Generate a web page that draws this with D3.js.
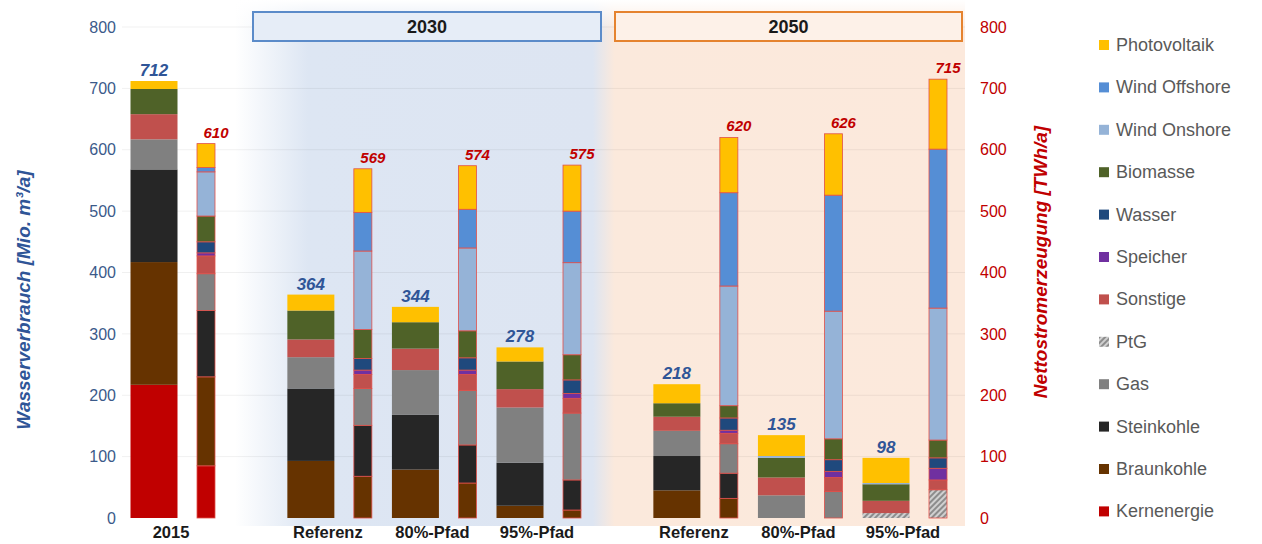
<!DOCTYPE html>
<html>
<head>
<meta charset="utf-8">
<script src="https://cdn.jsdelivr.net/npm/d3@7"></script>
<style>
  body { margin: 0; background: #fff; }
  svg text { font-family: "Liberation Sans", Arial, sans-serif; }
</style>
</head>
<body>
<script>
const w = 1262;
const h = 544;

// scenarios (one water bar + one generation bar each)
const categories = ["2015", "Referenz", "80%-Pfad", "95%-Pfad", "Referenz", "80%-Pfad", "95%-Pfad"];
const periods = ["2015", "2030", "2030", "2030", "2050", "2050", "2050"];

// stacking order bottom -> top
const sources = ["Kernenergie", "Braunkohle", "Steinkohle", "Gas", "PtG", "Sonstige",
  "Speicher", "Wasser", "Biomasse", "Wind Onshore", "Wind Offshore", "Photovoltaik"];

// Wasserverbrauch [Mio. m3/a]
const waterKern   = [217, 0, 0, 0, 0, 0, 0];
const waterBraun  = [200, 93, 79, 20, 45, 0, 0];
const waterStein  = [151, 118, 89, 70, 56, 0, 0];
const waterGas    = [49, 51, 73, 90, 41, 37, 0];
const waterPtG    = [0, 0, 0, 0, 0, 0, 8];
const waterSonst  = [41, 29, 35, 30, 23, 29, 20];
const waterSpeich = [0, 0, 0, 0, 0, 0, 0];
const waterWasser = [0, 0, 0, 0, 0, 0, 0];
const waterBio    = [41, 47, 43, 45, 22, 32, 27];
const waterOn     = [0, 0, 0, 0, 0, 3, 2];
const waterOff    = [0, 0, 0, 0, 0, 0, 0];
const waterPV     = [13, 26, 25, 23, 31, 34, 41];
const waterTotals = [712, 364, 344, 278, 218, 135, 98];

// Nettostromerzeugung [TWh/a]
const genKern   = [85, 0, 0, 0, 0, 0, 0];
const genBraun  = [145, 68, 57, 13, 32, 0, 0];
const genStein  = [108, 83, 62, 49, 41, 0, 0];
const genGas    = [60, 60, 89, 109, 48, 43, 0];
const genPtG    = [0, 0, 0, 0, 0, 0, 46];
const genSonst  = [29, 23, 26, 24, 17, 23, 16];
const genSpeich = [5, 7, 7, 8, 5, 10, 19];
const genWasser = [18, 19, 20, 22, 20, 19, 17];
const genBio    = [42, 47, 44, 41, 20, 34, 29];
const genOn     = [72, 128, 135, 150, 195, 208, 215];
const genOff    = [7, 63, 63, 84, 152, 189, 259];
const genPV     = [39, 71, 71, 75, 90, 100, 114];
const genTotals = [610, 569, 574, 575, 620, 626, 715];

const yTicks = [0, 100, 200, 300, 400, 500, 600, 700, 800];

const waterSeries = [waterKern, waterBraun, waterStein, waterGas, waterPtG, waterSonst,
  waterSpeich, waterWasser, waterBio, waterOn, waterOff, waterPV];
const genSeries = [genKern, genBraun, genStein, genGas, genPtG, genSonst,
  genSpeich, genWasser, genBio, genOn, genOff, genPV];

const colors = {
  "Kernenergie": "#c00000",
  "Braunkohle": "#663300",
  "Steinkohle": "#262626",
  "Gas": "#808080",
  "PtG": "url(#ptg)",
  "Sonstige": "#c0504d",
  "Speicher": "#7030a0",
  "Wasser": "#1f497d",
  "Biomasse": "#4f6228",
  "Wind Onshore": "#95b3d7",
  "Wind Offshore": "#558ed5",
  "Photovoltaik": "#ffc000"
};

function toRows(series) {
  return categories.map((c, i) => {
    const row = { i: i };
    sources.forEach((s, k) => row[s] = series[k][i]);
    return row;
  });
}

const stack = d3.stack().keys(sources);
const waterStack = stack(toRows(waterSeries));
const genStack = stack(toRows(genSeries));

// slot position with half-slot gap between periods
const periodList = ["2015", "2030", "2050"];
const slot = (i) => i + 0.5 * periodList.indexOf(periods[i]);

const xScale = d3.scaleLinear().domain([0, 7]).range([154, 886]);
const yScale = d3.scaleLinear().domain([0, 800]).range([518, 27]);
const waterW = 47;
const genW = 18;
const genOffset = 52;

const svg = d3.select("body").append("svg")
  .attr("width", w)
  .attr("height", h);

const defs = svg.append("defs");

const pat = defs.append("pattern")
  .attr("id", "ptg")
  .attr("patternUnits", "userSpaceOnUse")
  .attr("width", 4)
  .attr("height", 4)
  .attr("patternTransform", "rotate(45)");
pat.append("rect").attr("width", 4).attr("height", 4).attr("fill", "#d0d0d0");
pat.append("rect").attr("width", 2).attr("height", 4).attr("fill", "#8c8c8c");

const bgGrad = defs.append("linearGradient").attr("id", "bg");
[[0, "#ffffff"], [0.1, "#dde6f3"], [0.49, "#dde5f2"], [0.52, "#fbe9dc"], [1, "#fce9dc"]]
  .forEach(s => bgGrad.append("stop").attr("offset", s[0]).attr("stop-color", s[1]));

const fadeGrad = defs.append("linearGradient").attr("id", "fade")
  .attr("x1", 0).attr("x2", 0).attr("y1", 0).attr("y2", 1);
[[0, "#ffffff", 1], [0.06, "#ffffff", 0]]
  .forEach(s => fadeGrad.append("stop").attr("offset", s[0]).attr("stop-color", s[1]).attr("stop-opacity", s[2]));

// period backgrounds
svg.append("rect")
  .attr("x", 235).attr("y", 0)
  .attr("width", 730).attr("height", 526)
  .attr("fill", "url(#bg)");
svg.append("rect")
  .attr("x", 235).attr("y", 0)
  .attr("width", 730).attr("height", 526)
  .attr("fill", "url(#fade)");

// gridlines
svg.append("g")
  .selectAll("line")
  .data(yTicks.slice(1))
  .join("line")
  .attr("x1", 122).attr("x2", 965)
  .attr("y1", d => yScale(d)).attr("y2", d => yScale(d))
  .attr("stroke", "#000")
  .attr("stroke-opacity", 0.06);

// period header boxes
const headers = [
  { label: "2030", x0: 253, x1: 601, fill: "#e6edf7", stroke: "#5b8bc9" },
  { label: "2050", x0: 615, x1: 962, fill: "#fdf1e8", stroke: "#e5832f" }
];
headers.forEach(hd => {
  svg.append("rect")
    .attr("x", hd.x0).attr("y", 12)
    .attr("width", hd.x1 - hd.x0).attr("height", 29)
    .attr("fill", hd.fill)
    .attr("stroke", hd.stroke)
    .attr("stroke-width", 2);
  svg.append("text")
    .attr("x", (hd.x0 + hd.x1) / 2).attr("y", 33)
    .attr("text-anchor", "middle")
    .attr("font-size", 18).attr("font-weight", "bold")
    .attr("fill", "#1a1a1a")
    .text(hd.label);
});

// water bars
svg.append("g")
  .selectAll("g")
  .data(waterStack)
  .join("g")
  .attr("fill", d => colors[d.key])
  .selectAll("rect")
  .data(d => d.filter(p => p[1] > p[0]))
  .join("rect")
  .attr("x", d => xScale(slot(d.data.i)) - waterW / 2)
  .attr("y", d => yScale(d[1]))
  .attr("width", waterW)
  .attr("height", d => yScale(d[0]) - yScale(d[1]));

// generation bars
svg.append("g")
  .selectAll("g")
  .data(genStack)
  .join("g")
  .attr("fill", d => colors[d.key])
  .selectAll("rect")
  .data(d => d.filter(p => p[1] > p[0]))
  .join("rect")
  .attr("x", d => xScale(slot(d.data.i)) + genOffset - genW / 2)
  .attr("y", d => yScale(d[1]))
  .attr("width", genW)
  .attr("height", d => yScale(d[0]) - yScale(d[1]))
  .attr("stroke", "#e0504a")
  .attr("stroke-width", 0.8);

// totals
svg.append("g")
  .selectAll("text")
  .data(waterTotals)
  .join("text")
  .attr("x", (d, i) => xScale(slot(i)))
  .attr("y", d => yScale(d) - 5)
  .attr("text-anchor", "middle")
  .attr("font-size", 17).attr("font-weight", "bold").attr("font-style", "italic")
  .attr("fill", "#2f5597")
  .text(d => d);

svg.append("g")
  .selectAll("text")
  .data(genTotals)
  .join("text")
  .attr("x", (d, i) => xScale(slot(i)) + genOffset + 10)
  .attr("y", d => yScale(d) - 6)
  .attr("text-anchor", "middle")
  .attr("font-size", 15).attr("font-weight", "bold").attr("font-style", "italic")
  .attr("fill", "#c00000")
  .text(d => d);

// category labels
svg.append("g")
  .selectAll("text")
  .data(categories)
  .join("text")
  .attr("x", (d, i) => xScale(slot(i)) + 17)
  .attr("y", 538)
  .attr("text-anchor", "middle")
  .attr("font-size", 16.5).attr("font-weight", "bold")
  .attr("fill", "#1a1a1a")
  .text(d => d);

// axes
const yAxisL = d3.axisLeft(yScale).tickValues(yTicks).tickSize(0).tickPadding(0);
const gL = svg.append("g")
  .attr("transform", "translate(116,0)")
  .call(yAxisL);
gL.select(".domain").remove();
gL.selectAll("text")
  .attr("font-size", 16)
  .attr("fill", "#3b5a8a")
  .attr("font-family", "Liberation Sans, Arial, sans-serif");

const yAxisR = d3.axisRight(yScale).tickValues(yTicks).tickSize(0).tickPadding(0);
const gR = svg.append("g")
  .attr("transform", "translate(980,0)")
  .call(yAxisR);
gR.select(".domain").remove();
gR.selectAll("text")
  .attr("font-size", 16)
  .attr("fill", "#c00000")
  .attr("font-family", "Liberation Sans, Arial, sans-serif");

svg.append("text")
  .attr("transform", "translate(30,300) rotate(-90)")
  .attr("text-anchor", "middle")
  .attr("font-size", 19).attr("font-weight", "bold").attr("font-style", "italic")
  .attr("fill", "#2f5597")
  .text("Wasserverbrauch [Mio. m³/a]");

svg.append("text")
  .attr("transform", "translate(1047,262) rotate(-90)")
  .attr("text-anchor", "middle")
  .attr("font-size", 19).attr("font-weight", "bold").attr("font-style", "italic")
  .attr("fill", "#c00000")
  .text("Nettostromerzeugung [TWh/a]");

// legend
const legendKeys = sources.slice().reverse();
const legend = svg.append("g")
  .selectAll("g")
  .data(legendKeys)
  .join("g")
  .attr("transform", (d, i) => "translate(1099," + (45 + i * 42.4) + ")");
legend.append("rect")
  .attr("x", 0).attr("y", -5)
  .attr("width", 10).attr("height", 10)
  .attr("fill", d => colors[d]);
legend.append("text")
  .attr("x", 17).attr("y", 6)
  .attr("font-size", 18)
  .attr("fill", "#595959")
  .text(d => d);
</script>
</body>
</html>
